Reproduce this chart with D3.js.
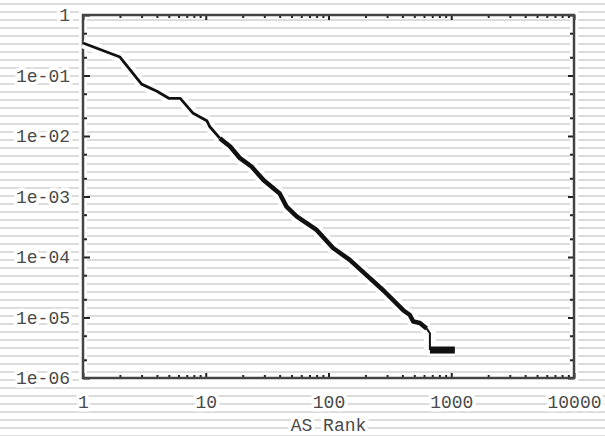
<!DOCTYPE html>
<html>
<head>
<meta charset="utf-8">
<script src="https://cdn.jsdelivr.net/npm/d3@7"></script>
<style>
  html, body { margin: 0; padding: 0; background: #fff; }
  svg { display: block; }
  .lbl { font-family: "Liberation Mono", "DejaVu Sans Mono", monospace; font-size: 18px; fill: #4a4a4a; }
</style>
</head>
<body>
<div id="chart"></div>
<script>
// AS rank vs. fraction
var ranks = [1, 2, 3, 4, 5, 6.2, 7.9, 10.2, 10.8, 13, 15.8, 19, 23.7, 29.5, 40, 45.5, 55, 80, 109, 149, 204, 279, 406, 460, 490, 555, 630, 670, 670, 1070];
var values = [0.344, 0.202, 0.072, 0.055, 0.042, 0.042, 0.0237, 0.0179, 0.0142, 0.0092, 0.0067, 0.0043, 0.0031, 0.00187, 0.00112, 0.00068, 0.00047, 0.00028, 0.000141, 0.0000895, 0.0000502, 0.0000282, 0.0000132, 0.000011, 0.0000086, 0.0000081, 0.0000066, 0.0000055, 0.0000029, 0.0000029];
var xTickLabels = ["1", "10", "100", "1000", "10000"];
var yTickLabels = ["1", "1e-01", "1e-02", "1e-03", "1e-04", "1e-05", "1e-06"];

var width = 605, height = 436;
var margin = { top: 15, right: 31, bottom: 58, left: 83 };

var data = ranks.map((r, i) => ({ rank: r, value: values[i] }));

var x = d3.scaleLog().domain([1, 10000]).range([margin.left, width - margin.right]);
var y = d3.scaleLog().domain([1e-6, 1]).range([height - margin.bottom, margin.top]);

var svg = d3.select("#chart").append("svg")
  .attr("width", width)
  .attr("height", height);

// scanline stripes across the whole picture
svg.append("g")
  .selectAll("rect")
  .data(d3.range(3, height, 8))
  .enter().append("rect")
  .attr("x", 0).attr("y", (d) => d)
  .attr("width", width).attr("height", 2)
  .attr("fill", "#dcdcdc");

var x0 = x.range()[0], x1 = x.range()[1];
var y0 = y.range()[1], y1 = y.range()[0];

// white halo round the frame
svg.append("rect")
  .attr("x", x0).attr("y", y0)
  .attr("width", x1 - x0).attr("height", y1 - y0)
  .attr("fill", "none").attr("stroke", "#fff").attr("stroke-width", 8);

var xMinor = [];
[1, 10, 100, 1000].forEach((d) => { for (var k = 2; k <= 9; k++) xMinor.push(d * k); });
var xMajor = [1, 10, 100, 1000, 10000];
var yMinor = [];
[1e-6, 1e-5, 1e-4, 1e-3, 1e-2, 1e-1].forEach((d) => { yMinor.push(d * 2, d * 5); });
var yMajor = [1, 1e-1, 1e-2, 1e-3, 1e-4, 1e-5, 1e-6];

function tickStyle(g) {
  g.select(".domain").remove();
  g.selectAll("line").attr("stroke", "#222").attr("stroke-width", 2);
}

// ticks on all four sides, pointing inward
svg.append("g").attr("transform", `translate(0,${y1})`)
  .call(d3.axisBottom(x).tickValues(xMinor).tickSize(-3).tickFormat("")).call(tickStyle);
svg.append("g").attr("transform", `translate(0,${y0})`)
  .call(d3.axisTop(x).tickValues(xMinor).tickSize(-3).tickFormat("")).call(tickStyle);
svg.append("g").attr("transform", `translate(${x0},0)`)
  .call(d3.axisLeft(y).tickValues(yMinor).tickSize(-4).tickFormat("")).call(tickStyle);
svg.append("g").attr("transform", `translate(${x1},0)`)
  .call(d3.axisRight(y).tickValues(yMinor).tickSize(-4).tickFormat("")).call(tickStyle);
svg.append("g").attr("transform", `translate(0,${y0})`)
  .call(d3.axisTop(x).tickValues(xMajor).tickSize(-5).tickFormat("")).call(tickStyle);
svg.append("g").attr("transform", `translate(${x1},0)`)
  .call(d3.axisRight(y).tickValues(yMajor).tickSize(-6).tickFormat("")).call(tickStyle);

// labelled axes
var xAxis = svg.append("g").attr("transform", `translate(0,${y1})`)
  .call(d3.axisBottom(x).tickValues(xMajor).tickSize(-5).tickPadding(17)
    .tickFormat((d, i) => xTickLabels[i]));
xAxis.call(tickStyle);
var yAxis = svg.append("g").attr("transform", `translate(${x0},0)`)
  .call(d3.axisLeft(y).tickValues(yMajor).tickSize(-7).tickPadding(13)
    .tickFormat((d, i) => yTickLabels[i]));
yAxis.call(tickStyle);

svg.selectAll(".tick text")
  .attr("class", "lbl")
  .attr("font-family", null).attr("font-size", null)
  .attr("fill", null)
  .attr("stroke", "#fff").attr("stroke-width", 7)
  .attr("stroke-linejoin", "round")
  .attr("paint-order", "stroke");

// frame
svg.append("rect")
  .attr("x", x0).attr("y", y0)
  .attr("width", x1 - x0).attr("height", y1 - y0)
  .attr("fill", "none").attr("stroke", "#444").attr("stroke-width", 2.5);

var line = d3.line().x((d) => x(d.rank)).y((d) => y(d.value));
var head = data.filter((d) => d.rank <= 13);
var body = data.filter((d) => d.rank >= 13 && d.rank <= 630);
var tail = data.filter((d) => d.rank >= 630);

var curve = svg.append("g").attr("fill", "none").attr("stroke-linejoin", "round");
[[head, 2.5], [body, 4], [tail, 4]].forEach(([seg, w]) => {
  curve.append("path").attr("d", line(seg))
    .attr("stroke", "#fff").attr("stroke-width", w + 8);
});
curve.append("path").attr("d", line(head)).attr("stroke", "#111").attr("stroke-width", 2.8);
curve.append("path").attr("d", line(body)).attr("stroke", "#111").attr("stroke-width", 4.5);
curve.append("path").attr("d", line(tail.slice(0, 3))).attr("stroke", "#111").attr("stroke-width", 2);
curve.append("path").attr("d", line(tail.slice(2))).attr("stroke", "#111").attr("stroke-width", 7);

svg.append("text")
  .attr("class", "lbl")
  .attr("x", (x0 + x1) / 2).attr("y", 431)
  .attr("text-anchor", "middle")
  .attr("stroke", "#fff").attr("stroke-width", 7)
  .attr("stroke-linejoin", "round").attr("paint-order", "stroke")
  .text("AS Rank");
</script>
</body>
</html>
